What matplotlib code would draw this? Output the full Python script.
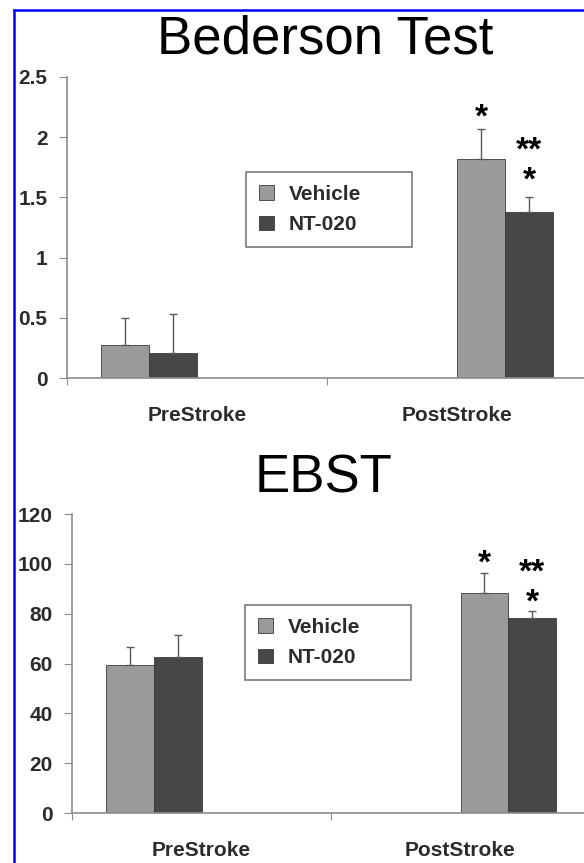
"""Bederson Test and EBST bar charts, Vehicle vs NT-020"""
import matplotlib
matplotlib.use("Agg")
import matplotlib.pyplot as plt
from matplotlib.lines import Line2D
import numpy as np

plt.rcParams['font.family'] = ['Liberation Sans', 'DejaVu Sans']

categories = ["PreStroke", "PostStroke"]
series = ["Vehicle", "NT-020"]

# Bederson Test
bederson_vehicle = [0.27, 1.82]
bederson_vehicle_err = [0.23, 0.25]
bederson_nt020 = [0.21, 1.38]
bederson_nt020_err = [0.32, 0.12]
# significance marks: (series index, category index, text, y of lowest mark)
bederson_stars = [(0, 1, "*", 2.21), (1, 1, "**\n*", 1.69)]
bederson_yticks = [0, 0.5, 1, 1.5, 2, 2.5]
bederson_yticklabels = ["0", "0.5", "1", "1.5", "2", "2.5"]

# EBST
ebst_vehicle = [59.3, 88.3]
ebst_vehicle_err = [7.3, 8.0]
ebst_nt020 = [62.7, 78.3]
ebst_nt020_err = [8.8, 2.8]
ebst_stars = [(0, 1, "*", 102.4), (1, 1, "**\n*", 86.7)]
ebst_yticks = [0, 20, 40, 60, 80, 100, 120]
ebst_yticklabels = ["0", "20", "40", "60", "80", "100", "120"]

colors = ["#9a9a9a", "#474747"]
text_color = "#2b2b2b"
W = 584 / 100
H = 863 / 100
bar_w = 0.185
# pre group sits left of the label centre, post group right of it
group_shift = [-2 * bar_w, 0.0]


def draw_panel(ax, vals, errs, stars, yticks, yticklabels):
    centers = np.arange(len(categories)) + 0.5
    xs = []
    for i, (v, e) in enumerate(zip(vals, errs)):
        x = centers + np.array(group_shift) + bar_w * (i + 0.5)
        xs.append(x)
        ax.bar(x, v, width=bar_w, color=colors[i], edgecolor="#3a3a3a",
               linewidth=0.6, zorder=2)
        ax.errorbar(x, v, yerr=[np.zeros(len(v)), e], fmt="none",
                    ecolor="#5a5a5a", elinewidth=1.0, capsize=3,
                    capthick=1.0, zorder=3)
    for i, j, s, y in stars:
        # asterisk centre sits ~10.5pt above the baseline at this size
        ax.annotate(s, (xs[i][j], y), xytext=(0, -10.5),
                    textcoords="offset points", ha="center",
                    va="baseline", fontsize=24, fontweight="bold",
                    linespacing=0.95, color="black", zorder=4)
    ax.set_xlim(0, 2)
    ax.set_ylim(yticks[0], yticks[-1])
    ax.set_yticks(yticks)
    ax.set_yticklabels(yticklabels)
    ax.set_xticks([0, 1, 2])
    ax.set_xticklabels([])
    ax.set_xticks(centers, minor=True)
    ax.set_xticklabels(categories, minor=True)
    ax.tick_params(axis="x", which="minor", length=0, pad=20)
    ax.tick_params(axis="x", which="major", length=5, direction="out",
                   color="#8c8c8c")
    ax.tick_params(axis="y", length=6, pad=8, color="#8c8c8c")
    for lab in ax.get_yticklabels() + ax.get_xticklabels(minor=True):
        lab.set_fontsize(15)
        lab.set_fontweight("bold")
        lab.set_color(text_color)
    for side in ["top", "right"]:
        ax.spines[side].set_visible(False)
    for side in ["left", "bottom"]:
        ax.spines[side].set_color("#8c8c8c")
        ax.spines[side].set_linewidth(1.2)


def add_legend(fig, x0, y0, w):
    handles = [plt.Rectangle((0, 0), 1, 1, facecolor=c, edgecolor="#3a3a3a",
                             linewidth=0.6) for c in colors]
    top = 1 - y0 / 863
    leg = fig.legend(handles, series, loc="upper left",
                     bbox_to_anchor=(x0 / 584, top - 0.01, w / 584, 0.01),
                     mode="expand", borderaxespad=0, fancybox=False,
                     edgecolor="#7a7a7a", framealpha=1,
                     prop={"size": 15, "weight": "bold"},
                     handlelength=0.7, handleheight=0.7, handletextpad=0.72,
                     borderpad=0.62, labelspacing=0.55)
    leg.get_frame().set_linewidth(1.2)
    for t in leg.get_texts():
        t.set_color(text_color)


fig = plt.figure(figsize=(W, H), dpi=100)

ax1 = fig.add_axes([67 / 584, 1 - 378 / 863, 520 / 584, 301 / 863])
draw_panel(ax1, [bederson_vehicle, bederson_nt020],
           [bederson_vehicle_err, bederson_nt020_err],
           bederson_stars, bederson_yticks, bederson_yticklabels)
add_legend(fig, 246, 172, 166)

ax2 = fig.add_axes([72 / 584, 1 - 813 / 863, 518 / 584, 299 / 863])
draw_panel(ax2, [ebst_vehicle, ebst_nt020],
           [ebst_vehicle_err, ebst_nt020_err],
           ebst_stars, ebst_yticks, ebst_yticklabels)
add_legend(fig, 245, 605, 166)

fig.text(325 / 584, 1 - 53 / 863, "Bederson Test", ha="center",
         va="baseline", fontsize=38, color="black")
fig.text(324 / 584, 1 - 492 / 863, "EBST", ha="center",
         va="baseline", fontsize=38, color="black")

# blue frame on top and left edges
fig.add_artist(Line2D([13.5 / 584, 1], [1 - 10.5 / 863, 1 - 10.5 / 863],
                      transform=fig.transFigure, color="#0000ff", lw=1.8))
fig.add_artist(Line2D([13.5 / 584, 13.5 / 584], [0, 1 - 10.5 / 863],
                      transform=fig.transFigure, color="#0000ff", lw=1.8))

fig.savefig("out.png", dpi=100)
